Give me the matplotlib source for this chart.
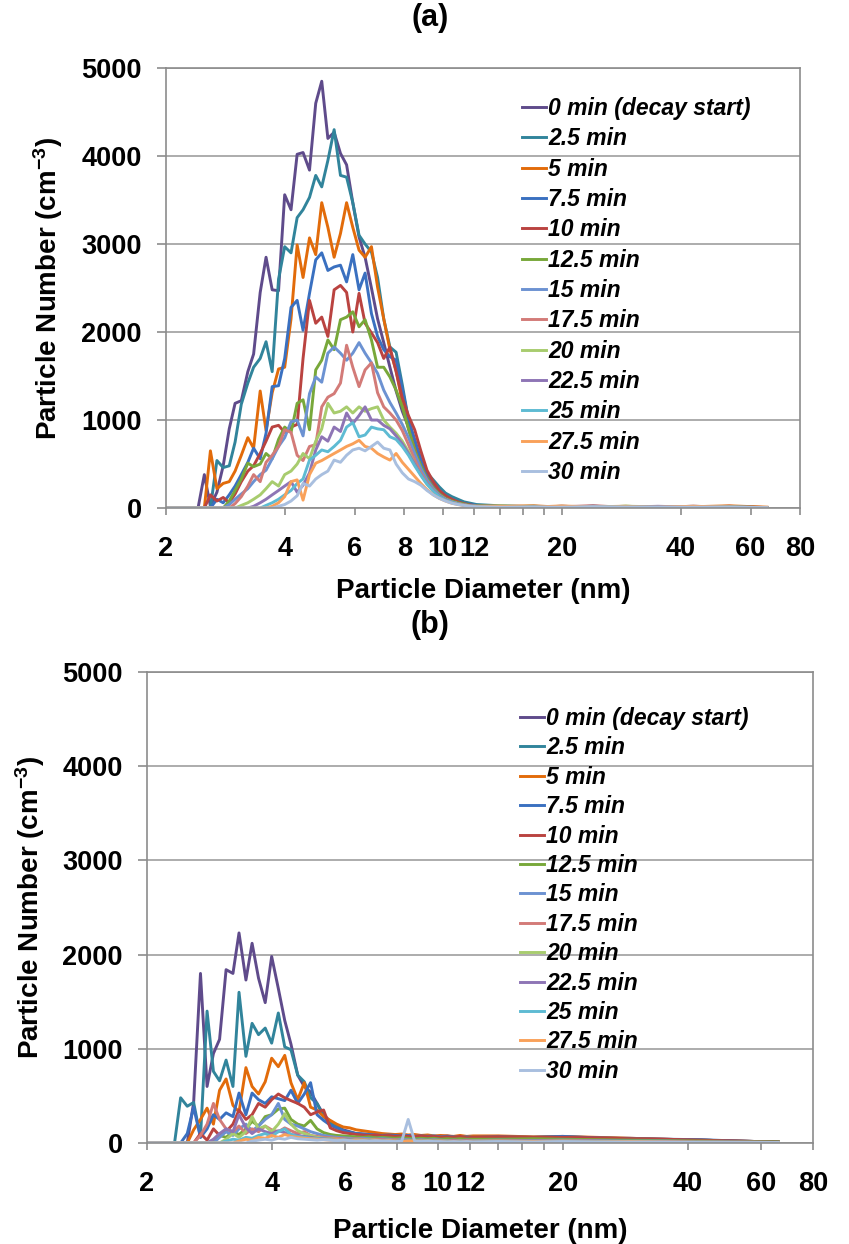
import matplotlib
matplotlib.use('Agg')
import matplotlib.pyplot as plt
from matplotlib.ticker import FixedLocator, FixedFormatter, NullLocator

plt.rcParams['font.family'] = ['Liberation Sans', 'DejaVu Sans']
plt.rcParams['font.weight'] = 'bold'
plt.rcParams['mathtext.fontset'] = 'custom'
plt.rcParams['mathtext.rm'] = 'Liberation Sans:bold'
plt.rcParams['mathtext.bf'] = 'Liberation Sans:bold'
plt.rcParams['mathtext.default'] = 'rm'

# particle diameter bins (nm)
diam = [2.00, 2.33, 2.41,
        2.50, 2.59, 2.69, 2.79, 2.89, 2.99, 3.10, 3.22, 3.33, 3.46,
        3.58, 3.71, 3.85, 3.99, 4.14, 4.29, 4.44, 4.61, 4.78, 4.95,
        5.13, 5.32, 5.52, 5.72, 5.93, 6.15, 6.37, 6.61, 6.85, 7.10,
        7.36, 7.63, 7.91, 8.20, 8.50, 8.81, 9.13, 9.47, 9.81, 10.17,
        10.55, 10.93, 11.33, 11.75, 12.18,
        14.0, 17.0, 20.0, 24.0, 29.0, 35.0, 43.0, 53.0, 66.0]

labels = ['0 min (decay start)', '2.5 min', '5 min', '7.5 min', '10 min',
          '12.5 min', '15 min', '17.5 min', '20 min', '22.5 min', '25 min',
          '27.5 min', '30 min']
colors = ['#5F4B8B', '#31849B', '#E26B0A', '#3A70C0', '#BA4340',
          '#78A83A', '#6C92D2', '#D37B78', '#A8CC6E', '#8E75B5',
          '#5EBBD3', '#F9A15A', '#A9BFDF']

# ---- panel (a) ----
a_t0 = [0, 0, 0,
        380, 20, 180, 480, 900, 1190, 1220, 1550, 1750, 2450, 2850, 2480, 2470, 3560, 3390,
        4020, 4040, 3840, 4600, 4850, 4200, 4270, 4030, 3900, 3470, 3080, 2850, 2500, 2150,
        1880, 1600, 1330, 1100, 920, 700, 520, 330, 230, 170, 120, 85, 60, 40, 30, 20,
        15, 10, 20, 10, 15, 10, 20, 10, 5]
a_t2_5 = [0, 0, 0,
          0, 0, 540, 460, 480, 750, 1180, 1420, 1600, 1700, 1890, 1550, 2600, 2970, 2900,
          3300, 3390, 3530, 3780, 3650, 3950, 4300, 3780, 3760, 3470, 3100, 3000, 2910, 2620,
          2150, 1830, 1770, 1400, 1000, 760, 520, 400, 320, 240, 170, 130, 100, 70, 55, 40,
          25, 15, 10, 20, 10, 15, 10, 10, 5]
a_t5 = [0, 0, 0,
        0, 650, 220, 280, 300, 420, 600, 800, 680, 1330, 880, 1310, 1580, 1600, 2150,
        2990, 2620, 3070, 2880, 3470, 3190, 2850, 3120, 3470, 3190, 2930, 2850, 2970, 2510,
        2150, 1800, 1560, 1200, 900, 680, 500, 350, 250, 170, 120, 80, 60, 45, 30, 25,
        20, 25, 10, 15, 20, 10, 15, 25, 10]
a_t7_5 = [0, 0, 0,
          0, 0, 100, 60, 150, 250, 380, 520, 680, 560, 850, 1380, 1390, 1700, 2280,
          2360, 2020, 2440, 2820, 2900, 2700, 2740, 2760, 2570, 2880, 2480, 2670, 2210, 1950,
          1800, 1720, 1680, 1350, 1000, 780, 560, 400, 290, 200, 140, 100, 70, 50, 40, 30,
          15, 10, 20, 10, 10, 15, 10, 5, 5]
a_t10 = [0, 0, 0,
         0, 150, 80, 120, 60, 160, 300, 420, 480, 620, 760, 920, 940, 860, 920,
         950, 1700, 2360, 2100, 2170, 1950, 2480, 2530, 2450, 2000, 2440, 2100, 1990, 1880,
         1700, 1830, 1550, 1250, 1050, 890, 650, 430, 300, 200, 140, 100, 70, 50, 35, 25,
         20, 10, 15, 25, 10, 15, 10, 20, 5]
a_t12_5 = [0, 0, 0,
           0, 0, 0, 0, 80, 200, 330, 510, 470, 500, 620, 560, 780, 920, 860,
           1190, 1230, 890, 1570, 1680, 1910, 1800, 2140, 2170, 2230, 2060, 2140, 1910, 1600,
           1600, 1490, 1340, 1150, 900, 650, 480, 330, 230, 160, 110, 80, 60, 45, 30, 25,
           15, 20, 10, 10, 20, 15, 10, 10, 5]
a_t15 = [0, 0, 0,
         0, 0, 0, 0, 40, 100, 160, 220, 300, 380, 430, 560, 700, 800, 980,
         1000, 820, 1300, 1490, 1430, 1760, 1830, 1760, 1680, 1760, 1880, 1760, 1650, 1530,
         1340, 1200, 1080, 950, 800, 620, 450, 320, 220, 150, 100, 70, 50, 35, 25, 20,
         10, 15, 10, 20, 10, 10, 15, 10, 5]
a_t17_5 = [0, 0, 0,
           0, 0, 0, 0, 0, 50, 130, 250, 380, 300, 520, 600, 700, 890, 860,
           600, 540, 700, 720, 1150, 1260, 1300, 1420, 1850, 1600, 1380, 1570, 1650, 1310,
           1150, 1080, 1000, 880, 720, 550, 400, 290, 200, 140, 100, 70, 50, 35, 25, 20,
           10, 20, 10, 15, 10, 10, 20, 10, 5]
a_t20 = [0, 0, 0,
         0, 0, 0, 0, 0, 0, 30, 60, 100, 150, 220, 300, 250, 380, 420,
         500, 620, 560, 760, 900, 1190, 1080, 1100, 1150, 1080, 1150, 1100, 1130, 1150,
         1000, 920, 850, 760, 640, 500, 380, 280, 200, 140, 100, 70, 50, 35, 25, 20,
         25, 10, 15, 10, 20, 10, 10, 15, 5]
a_t22_5 = [0, 0, 0,
           0, 0, 0, 0, 0, 0, 0, 0, 20, 60, 100, 150, 200, 250, 300,
           180, 260, 400, 660, 810, 760, 920, 870, 1080, 960, 1050, 1150, 1000, 1000,
           940, 900, 820, 730, 620, 500, 380, 280, 200, 140, 100, 70, 50, 35, 25, 20,
           10, 10, 15, 10, 10, 20, 10, 10, 5]
a_t25 = [0, 0, 0,
         0, 0, 0, 0, 0, 0, 0, 0, 0, 0, 30, 60, 100, 150, 200,
         280, 330, 545, 600, 660, 640, 700, 770, 920, 970, 810, 830, 920, 900,
         890, 810, 780, 700, 600, 480, 370, 270, 190, 130, 90, 65, 45, 30, 20, 15,
         10, 15, 10, 10, 15, 10, 10, 10, 5]
a_t27_5 = [0, 0, 0,
           0, 0, 0, 0, 0, 0, 0, 0, 0, 0, 0, 20, 60, 130, 300,
           320, 90, 380, 510, 540, 580, 620, 660, 700, 730, 770, 700, 680, 620,
           580, 545, 620, 520, 440, 360, 280, 210, 150, 110, 80, 55, 40, 30, 20, 15,
           20, 10, 25, 10, 15, 10, 20, 10, 5]
a_t30 = [0, 0, 0,
         0, 0, 0, 0, 0, 0, 0, 0, 0, 0, 0, 0, 20, 40, 80,
         140, 280, 250, 330, 380, 420, 545, 520, 600, 660, 680, 650, 700, 750,
         680, 660, 500, 400, 330, 300, 260, 200, 150, 110, 80, 55, 40, 30, 20, 15,
         10, 10, 10, 15, 10, 10, 10, 10, 5]

# ---- panel (b) ----
b_t0 = [0, 0, 0,
        0, 430, 1800, 600, 950, 1100, 1840, 1800, 2230, 1730, 2120, 1750, 1490, 1980, 1640,
        1300, 1050, 720, 600, 540, 420, 300, 230, 180, 140, 120, 100, 95, 90,
        85, 80, 85, 75, 80, 70, 75, 70, 80, 65, 70, 75, 65, 70, 60, 65,
        70, 60, 65, 55, 50, 40, 30, 20, 10]
b_t2_5 = [0, 0, 480,
          390, 430, 60, 1400, 760, 660, 880, 600, 1600, 920, 1270, 1150, 1220, 1060, 1380,
          1020, 990, 720, 650, 480, 420, 280, 220, 170, 130, 110, 100, 90, 80,
          85, 75, 80, 70, 75, 65, 70, 65, 70, 60, 65, 60, 55, 65, 55, 60,
          60, 55, 60, 50, 45, 35, 30, 20, 10]
b_t5 = [0, 0, 0,
        0, 140, 250, 370, 200, 560, 680, 400, 330, 800, 600, 520, 650, 900, 810,
        930, 640, 460, 640, 380, 350, 280, 240, 200, 170, 160, 140, 130, 120,
        110, 100, 95, 90, 95, 85, 90, 80, 85, 75, 80, 75, 70, 80, 70, 75,
        75, 65, 70, 60, 50, 40, 30, 20, 10]
b_t7_5 = [0, 0, 0,
          100, 380, 60, 150, 300, 250, 320, 280, 530, 300, 530, 460, 420, 490, 470,
          450, 560, 420, 520, 640, 300, 240, 190, 160, 130, 110, 100, 95, 90,
          85, 80, 85, 80, 75, 80, 70, 75, 70, 75, 65, 70, 65, 60, 65, 60,
          65, 60, 70, 55, 45, 40, 35, 20, 10]
b_t10 = [0, 0, 0,
         0, 0, 100, 30, 150, 80, 120, 200, 350, 250, 300, 420, 380, 460, 520,
         480, 450, 420, 380, 300, 330, 350, 160, 130, 110, 100, 90, 85, 80,
         85, 75, 80, 70, 75, 70, 65, 75, 65, 70, 60, 65, 60, 70, 55, 60,
         65, 60, 60, 55, 45, 40, 30, 20, 10]
b_t12_5 = [0, 0, 0,
           0, 0, 0, 0, 30, 80, 60, 120, 90, 150, 230, 180, 280, 300, 360,
           370, 250, 200, 180, 240, 150, 110, 90, 80, 75, 70, 65, 60, 65,
           55, 60, 55, 50, 55, 50, 45, 50, 45, 50, 40, 45, 40, 45, 40, 40,
           40, 45, 40, 35, 30, 25, 20, 15, 10]
b_t15 = [0, 0, 0,
         0, 0, 0, 0, 0, 60, 120, 80, 150, 200, 130, 180, 250, 300, 420,
         250, 200, 180, 150, 120, 100, 80, 70, 60, 55, 50, 45, 50, 45,
         40, 45, 40, 35, 40, 35, 30, 35, 30, 35, 30, 25, 30, 25, 30, 25,
         30, 25, 30, 25, 20, 20, 15, 10, 5]
b_t17_5 = [0, 0, 0,
           0, 0, 80, 200, 420, 250, 150, 120, 180, 100, 150, 120, 180, 140, 120,
           160, 130, 100, 120, 80, 70, 60, 55, 50, 45, 40, 45, 40, 35,
           40, 35, 30, 35, 30, 30, 25, 30, 25, 30, 25, 20, 25, 20, 25, 20,
           25, 20, 25, 20, 15, 15, 10, 10, 5]
b_t20 = [0, 0, 0,
         0, 0, 0, 0, 0, 0, 40, 100, 60, 120, 280, 150, 180, 120, 200,
         310, 200, 130, 100, 80, 60, 50, 45, 40, 35, 40, 35, 30, 35,
         30, 25, 30, 25, 30, 25, 20, 25, 20, 25, 20, 20, 15, 20, 15, 20,
         20, 15, 20, 15, 15, 10, 10, 5, 5]
b_t22_5 = [0, 0, 0,
           0, 0, 0, 0, 40, 100, 150, 120, 300, 160, 100, 150, 120, 100, 130,
           110, 90, 80, 70, 60, 50, 45, 40, 35, 30, 35, 30, 25, 30,
           25, 20, 25, 20, 25, 20, 15, 20, 15, 20, 15, 15, 10, 15, 10, 15,
           15, 10, 15, 10, 10, 10, 5, 5, 5]
b_t25 = [0, 0, 0,
         0, 0, 0, 0, 0, 0, 20, 40, 30, 60, 50, 80, 100, 70, 120,
         150, 90, 70, 60, 50, 45, 40, 35, 30, 30, 25, 30, 25, 20,
         25, 20, 20, 15, 20, 15, 15, 20, 15, 15, 10, 15, 10, 15, 10, 10,
         15, 10, 15, 10, 10, 5, 5, 5, 5]
b_t27_5 = [0, 0, 0,
           0, 0, 0, 0, 0, 0, 0, 0, 20, 40, 30, 60, 50, 80, 60,
           90, 70, 60, 50, 45, 40, 35, 30, 35, 30, 25, 30, 25, 20,
           25, 20, 25, 20, 15, 20, 15, 20, 15, 10, 15, 10, 15, 10, 15, 10,
           10, 15, 10, 10, 15, 10, 5, 5, 5]
b_t30 = [0, 0, 0,
         0, 0, 0, 0, 0, 0, 0, 0, 0, 0, 20, 30, 40, 30, 50,
         40, 60, 45, 40, 35, 30, 35, 30, 25, 30, 25, 20, 25, 20,
         25, 20, 20, 15, 20, 250, 20, 15, 20, 15, 15, 10, 15, 10, 15, 10,
         15, 10, 15, 10, 10, 10, 5, 5, 5]

a_series = [a_t0, a_t2_5, a_t5, a_t7_5, a_t10, a_t12_5, a_t15, a_t17_5,
            a_t20, a_t22_5, a_t25, a_t27_5, a_t30]
b_series = [b_t0, b_t2_5, b_t5, b_t7_5, b_t10, b_t12_5, b_t15, b_t17_5,
            b_t20, b_t22_5, b_t25, b_t27_5, b_t30]

xticks = [2, 4, 6, 8, 10, 12, 14, 16, 18, 20, 40, 60, 80]
xticklabels = ['2', '4', '6', '8', '10', '12', '', '', '', '20', '40', '60', '80']
yticks = [0, 1000, 2000, 3000, 4000, 5000]

fig = plt.figure(figsize=(8.49, 12.44), dpi=100)
ax_a = fig.add_axes([0.1955, 0.5916, 0.7468, 0.3537])
ax_b = fig.add_axes([0.1731, 0.0812, 0.7845, 0.3786])

panels = [(ax_a, a_series, '(a)', 18, (0.5615, 0.934), 0.32, -0.160),
          (ax_b, b_series, '(b)', 625, (0.56, 0.926), 0.28, -0.150)]

for ax, series, title, title_y, leg_pos, leg_sp, ylab_x in panels:
    for vals, lab, col in zip(series, labels, colors):
        ax.plot(diam, vals, color=col, lw=2.1, label=lab)

    ax.set_xscale('log')
    ax.set_xlim(2, 80)
    ax.set_ylim(0, 5000)
    ax.xaxis.set_major_locator(FixedLocator(xticks))
    ax.xaxis.set_major_formatter(FixedFormatter(xticklabels))
    ax.xaxis.set_minor_locator(NullLocator())
    ax.set_yticks(yticks)

    ax.yaxis.grid(True, color='#A6A6A6', lw=1.3)
    ax.set_axisbelow(True)
    for sp in ax.spines.values():
        sp.set_color('#8C8C8C')
        sp.set_linewidth(1.2)

    ax.tick_params(axis='x', direction='out', length=5, width=1.2, color='#8C8C8C',
                   labelsize=19.5, pad=15)
    ax.tick_params(axis='y', direction='out', length=6.5, width=1.2, color='#8C8C8C',
                   labelsize=19.5, pad=11)

    ax.set_xlabel('Particle Diameter (nm)', fontsize=20, fontweight='bold')
    ax.set_ylabel('Particle Number (cm$^{-3}$)', fontsize=20, fontweight='bold')
    ax.xaxis.set_label_coords(0.5, -0.16)
    ax.yaxis.set_label_coords(ylab_x, 0.5)

    ax.legend(loc='upper left', bbox_to_anchor=leg_pos, frameon=False,
              prop={'style': 'italic', 'weight': 'bold', 'size': 16.5},
              handlelength=1.05, handletextpad=0.1, labelspacing=leg_sp,
              borderpad=0, borderaxespad=0)

    fig.text(430 / 849, 1 - title_y / 1244, title, ha='center', va='center',
             fontsize=22, fontweight='bold')

fig.savefig('out.png', dpi=100)
